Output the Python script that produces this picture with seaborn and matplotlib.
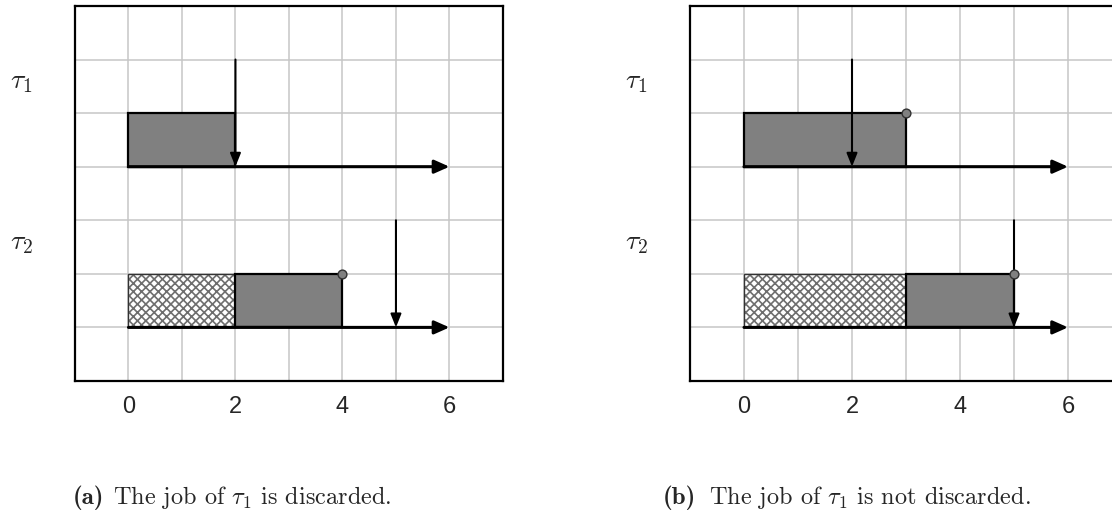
import matplotlib
matplotlib.use("Agg")
import matplotlib.pyplot as plt
import matplotlib.ticker as mticker
import seaborn as sns
import numpy as np

# tasks and their timelines
tasks = [r'$\tau_1$', r'$\tau_2$']
task_base = [4, 1]
deadlines = [2, 5]
horizon = 6

# (a) tau_1 discarded
a_blocked_start = [0, 0]
a_blocked_len = [0, 2]
a_exec_start = [0, 2]
a_exec_len = [2, 2]
a_done = [False, True]

# (b) tau_1 not discarded
b_blocked_start = [0, 0]
b_blocked_len = [0, 3]
b_exec_start = [0, 3]
b_exec_len = [3, 2]
b_done = [True, True]

x_ticks = [0, 2, 4, 6]
caption_tags = ['(a)', '(b)']
captions = [r'The job of $\tau_1$ is discarded.',
            r'The job of $\tau_1$ is not discarded.']

GRAY = '#808080'


def draw_panel(ax, blocked_start, blocked_len, exec_start, exec_len, done):
    ax.set_xlim(-1, 7)
    ax.set_ylim(0, 7)
    ax.xaxis.set_major_locator(mticker.FixedLocator(x_ticks))
    ax.xaxis.set_minor_locator(mticker.MultipleLocator(1))
    ax.yaxis.set_major_locator(mticker.MultipleLocator(1))
    ax.set_yticklabels([])
    ax.tick_params(axis='both', which='both', length=0)
    ax.tick_params(axis='x', pad=11, labelsize=17)
    for lbl in ax.get_xticklabels():
        lbl.set_family('Liberation Sans')
    ax.grid(True, which='both', color='#c6c6c6', linewidth=1.1, zorder=0)
    ax.set_axisbelow(True)
    for sp in ax.spines.values():
        sp.set_visible(True)
        sp.set_color('black')
        sp.set_linewidth(1.6)

    # hatched (blocked) part
    ax.barh(task_base, blocked_len, left=blocked_start, height=1, align='edge',
            color='white', edgecolor='#6e6e6e', hatch='xxxx', linewidth=0, zorder=2)
    ax.barh(task_base, blocked_len, left=blocked_start, height=1, align='edge',
            fill=False, edgecolor='#333333', linewidth=1.0, zorder=2)
    # executed part
    ax.barh(task_base, exec_len, left=exec_start, height=1, align='edge',
            color=GRAY, edgecolor='black', linewidth=1.6, zorder=3)

    for i, base in enumerate(task_base):
        # time axis of the task
        ax.annotate('', xy=(horizon, base), xytext=(0, base),
                    arrowprops=dict(arrowstyle='-|>,head_length=0.9,head_width=0.4',
                                    lw=2.2, color='black', shrinkA=0, shrinkB=0,
                                    mutation_scale=10), zorder=4)
        # deadline
        ax.annotate('', xy=(deadlines[i], base), xytext=(deadlines[i], base + 2),
                    arrowprops=dict(arrowstyle='-|>,head_length=0.8,head_width=0.32',
                                    lw=1.5, color='black', shrinkA=0, shrinkB=0,
                                    mutation_scale=10), zorder=5)
        ax.text(-2.0, base + 1.6, tasks[i], fontsize=20, ha='center', va='center',
                clip_on=False)

    ends_x = [s + l for s, l, d in zip(exec_start, exec_len, done) if d]
    ends_y = [b + 1 for b, d in zip(task_base, done) if d]
    sns.scatterplot(x=ends_x, y=ends_y, ax=ax, s=40, color=GRAY,
                    edgecolor='#333333', linewidth=1.0, zorder=6, legend=False)


sns.set_style('white')
plt.rcParams['mathtext.fontset'] = 'cm'
plt.rcParams['hatch.linewidth'] = 1.2

fig = plt.figure(figsize=(11.12, 5.14), dpi=100)
ax_a = fig.add_axes([0.0674, 0.2588, 0.3849, 0.7296])
ax_b = fig.add_axes([0.6205, 0.2588, 0.3885, 0.7296])

draw_panel(ax_a, a_blocked_start, a_blocked_len, a_exec_start, a_exec_len, a_done)
draw_panel(ax_b, b_blocked_start, b_blocked_len, b_exec_start, b_exec_len, b_done)

# captions: bold tag + roman text
cap_y = 1 - 504 / 514
for tag_x, txt_x, tag, cap in zip([73, 663], [113, 709], caption_tags, captions):
    fig.text(tag_x / 1112, cap_y, tag, family='cmb10', fontsize=18,
             ha='left', va='baseline')
    fig.text(txt_x / 1112, cap_y, cap, family='cmr10', fontsize=17.5,
             ha='left', va='baseline')

fig.savefig('out.png', dpi=100)
